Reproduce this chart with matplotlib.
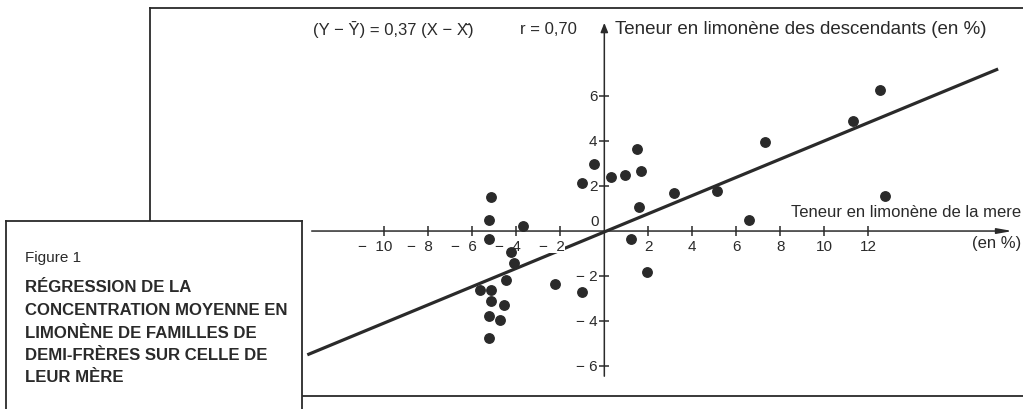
import matplotlib.pyplot as plt
from matplotlib import font_manager

plt.rcParams['font.family'] = ['Liberation Sans', 'DejaVu Sans']
ink = '#2a2a2a'

# teneur en limonene : ecart a la moyenne, mere (X) et descendants (Y)
mere = [-5.15, -5.24, -5.24, -3.68, -4.24, -4.12, -4.47, -5.67, -5.15, -5.16, -4.56,
        -5.24, -4.74, -5.24, -2.23, -1.03, -1.03, -0.45, 0.29, 0.95, 1.50, 1.67,
        1.58, 1.20, 1.93, 3.17, 5.11, 6.56, 7.29, 11.29, 12.53, 12.76]
desc = [1.50, 0.50, -0.36, 0.24, -0.92, -1.44, -2.18, -2.61, -2.62, -3.13, -3.29,
        -3.76, -3.96, -4.77, -2.36, -2.73, 2.13, 2.99, 2.39, 2.50, 3.64, 2.67,
        1.08, -0.36, -1.81, 1.67, 1.79, 0.50, 3.97, 4.87, 6.27, 1.57]

# droite de regression (extremites)
reg_x = [-13.5, 17.9]
reg_y = [-5.5, 7.2]

xticks = [-10, -8, -6, -4, -2, 2, 4, 6, 8, 10, 12]
yticks = [-6, -4, -2, 2, 4, 6]

equation = '(Y − Ȳ) = 0,37 (X − X̄)'
coef_r = 'r = 0,70'
label_x = 'Teneur en limonène de la mere'
label_y = 'Teneur en limonène des descendants (en %)'
caption_title = 'Figure 1'
caption = ['RÉGRESSION DE LA', 'CONCENTRATION MOYENNE EN', 'LIMONÈNE DE FAMILLES DE',
           'DEMI-FRÈRES SUR CELLE DE', 'LEUR MÈRE']

W, H = 1023, 410
fig = plt.figure(figsize=(W / 100, H / 100), dpi=100)
fig.patch.set_facecolor('white')

ax = fig.add_axes([150 / W, 13 / H, 873 / W, 388 / H])
ax.set_xlim(-20.65, 19.03)
ax.set_ylim(-7.33, 9.91)
ax.set_xticks([])
ax.set_yticks([])
ax.spines['right'].set_visible(False)
for s in ['left', 'top', 'bottom']:
    ax.spines[s].set_linewidth(1.3)
    ax.spines[s].set_color(ink)

# axes avec fleches
ax.annotate('', xy=(18.55, 0), xytext=(-13.3, 0),
            arrowprops=dict(arrowstyle='-|>,head_length=0.9,head_width=0.16',
                            color=ink, lw=1.1, shrinkA=0, shrinkB=0))
ax.annotate('', xy=(0, 9.25), xytext=(0, -6.45),
            arrowprops=dict(arrowstyle='-|>,head_length=0.55,head_width=0.22',
                            color=ink, lw=1.1, shrinkA=0, shrinkB=0))
ax.plot(xticks, [0] * len(xticks), ls='none', marker='|', ms=7, mew=1.1, color=ink)
ax.plot([0] * len(yticks), yticks, ls='none', marker='_', ms=7, mew=1.1, color=ink)

for v in xticks:
    n = len(str(abs(v)))
    s = str(v) if v > 0 else '−  ' + str(-v)
    ax.annotate(s, xy=(v, 0), xytext=(3.0 * n, -10.5), textcoords='offset points',
                ha='right', va='center', fontsize=11, color=ink, zorder=2.5,
                bbox=dict(boxstyle='square,pad=0.05', fc='white', ec='none'))
for v in yticks:
    s = str(v) if v > 0 else '− ' + str(-v)
    ax.annotate(s, xy=(0, v), xytext=(-5, 0), textcoords='offset points',
                ha='right', va='center', fontsize=11, color=ink)
ax.annotate('0', xy=(0, 0), xytext=(-4, 7), textcoords='offset points',
            ha='right', va='center', fontsize=11, color=ink)

ax.plot(reg_x, reg_y, color=ink, lw=2.3, solid_capstyle='butt', zorder=2)
ax.plot(mere, desc, 'o', ms=6.8, color=ink, zorder=4)

ax.text(18.95, 0.87, label_x, ha='right', va='center', fontsize=12, color=ink)
ax.text(18.95, -0.5, '(en %)', ha='right', va='center', fontsize=12, color=ink)
ax.text(0.49, 9.0, label_y, ha='left', va='center', fontsize=13.5, color=ink)
ax.text(-13.24, 9.0, equation, ha='left', va='center', fontsize=12, color=ink)
ax.text(-3.83, 9.0, coef_r, ha='left', va='center', fontsize=12, color=ink)

# encadre de legende
cap = fig.add_axes([6 / W, -20 / H, 296 / W, (20 + H - 222) / H], zorder=5)
cap.set_facecolor('white')
cap.set_xticks([])
cap.set_yticks([])
cap.spines['bottom'].set_visible(False)
for s in ['left', 'top', 'right']:
    cap.spines[s].set_linewidth(1.3)
    cap.spines[s].set_color(ink)

names = {f.name for f in font_manager.fontManager.ttflist}
if 'Liberation Sans Narrow' in names:
    cap_font, cap_size = ['Liberation Sans Narrow', 'DejaVu Sans'], 14.5
else:
    cap_font, cap_size = ['Liberation Sans', 'DejaVu Sans'], 12.1

cap.text(25 / W, 1 - 258 / H, caption_title, transform=fig.transFigure,
         fontsize=11, va='center', ha='left', color=ink)
for i, line in enumerate(caption):
    cap.text(25 / W, 1 - (288 + 22.5 * i) / H, line, transform=fig.transFigure,
             fontsize=cap_size, fontweight='bold', family=cap_font,
             va='center', ha='left', color=ink)

fig.savefig('out.png', dpi=100)
